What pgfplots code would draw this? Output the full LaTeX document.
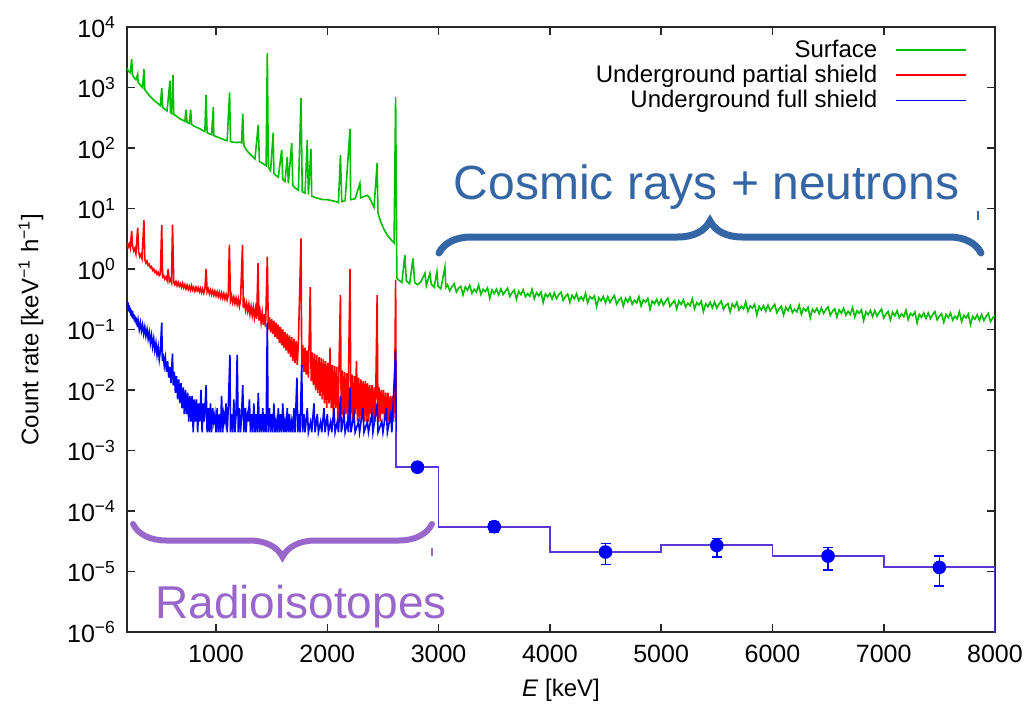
\documentclass[border=0pt]{standalone}
\usepackage{pgfplots}
\pgfplotsset{compat=1.18}
\usepackage{fontspec}
\setmainfont{Liberation Sans}
\usetikzlibrary{decorations.pathreplacing}
\definecolor{sgreen}{RGB}{0,190,0}
\definecolor{hcol}{RGB}{90,55,215}
\definecolor{cosmic}{RGB}{52,101,164}
\definecolor{radio}{RGB}{153,102,204}
\pgfplotstableread{
x y ep em
2810 5.3e-4 0 0
3500 5.5e-5 1.1e-5 1.1e-5
4500 2.1e-5 0.8e-5 0.8e-5
5500 2.7e-5 0.8e-5 0.95e-5
6500 1.8e-5 0.7e-5 0.75e-5
7500 1.17e-5 0.63e-5 0.59e-5
}\pointdata
\begin{document}
\begin{tikzpicture}
\begin{axis}[
  at={(0,0)}, anchor=south west,
  scale only axis, width=434pt, height=302.5pt,
  xmin=200, xmax=8000,
  ymode=log, log basis y=10, ymin=1e-6, ymax=1e4,
  xtick={1000,2000,3000,4000,5000,6000,7000,8000},
  xticklabels={1000,2000,3000,4000,5000,6000,7000,8000},
  ytick={1e-6,1e-5,1e-4,1e-3,1e-2,1e-1,1,10,100,1000,10000},
  yticklabels={10\textsuperscript{−6},10\textsuperscript{−5},10\textsuperscript{−4},10\textsuperscript{−3},10\textsuperscript{−2},10\textsuperscript{−1},10\textsuperscript{0},10\textsuperscript{1},10\textsuperscript{2},10\textsuperscript{3},10\textsuperscript{4}},
  yminorticks=false, xminorticks=false,
  tick pos=both, tick align=inside, major tick length=4pt,
  axis line style={line width=0.8pt, black!85},
  tick style={line width=0.8pt, black!85},
  tick label style={font=\fontsize{12.5}{14}\selectfont},
  xticklabel style={yshift=-3pt},
  yticklabel style={xshift=-2pt},
  every axis y label/.style={at={(axis description cs:0,0.5)}, xshift=-48pt, rotate=90, anchor=center},
  every axis x label/.style={at={(axis description cs:0.5,0)}, yshift=-29pt, anchor=center},
  ylabel={Count rate [keV\textsuperscript{−1} h\textsuperscript{−1}]},
  xlabel={\textit{E} [keV]},
  label style={font=\fontsize{12}{14}\selectfont},
  legend cell align=right,
  legend plot pos=right,
  legend style={draw=none, fill=none, at={(rel axis cs:0.975,0.993)}, anchor=north east,
    font=\fontsize{12}{13}\selectfont, row sep=-1.5pt},
  legend image code/.code={\path (0pt,0pt); \draw[#1] (7pt,0pt) -- (42pt,0pt);},
]
% Surface
\addplot[sgreen, line width=0.8pt] coordinates {
(200,2100)(210,1900)(220,1800)(230,1750)(242,2950)(250,1600)(260,1500)(270,1400)(280,1350)(296,1650)(300,1200)(310,1150)(320,1100)(330,1050)(340,1000)(353,2000)(360,920)(370,880)(380,820)(390,780)(400,740)(420,680)(440,620)(460,580)(480,540)(500,500)(512,980)(520,470)(540,440)(560,410)(586,1300)(590,390)(600,375)(613,1600)(620,360)(640,340)(660,320)(680,300)(700,290)(720,275)(730,430)(740,265)(760,255)(772,430)(780,245)(800,232)(820,222)(840,215)(860,205)(880,195)(900,188)(910,750)(920,180)(940,172)(960,166)(976,480)(980,160)(1000,155)(1020,150)(1040,145)(1060,140)(1080,135)(1100,132)(1122,830)(1130,128)(1150,125)(1170,124)(1190,123)(1210,125)(1230,122)(1240,370)(1250,110)(1270,95)(1290,85)(1310,78)(1330,72)(1350,66)(1379,240)(1390,60)(1410,57)(1430,54)(1450,51)(1461,3700)(1470,48)(1490,42)(1514,180)(1520,38)(1540,35)(1560,33)(1590,93)(1600,30)(1620,28)(1640,71)(1650,26)(1680,120)(1690,24)(1710,22)(1740,20)(1764,670)(1775,19)(1800,18)(1820,135)(1830,17)(1853,96)(1860,16)(1880,15.5)(1900,15)(1930,14.5)(1960,14)(2000,14)(2040,13.5)(2080,13)(2100,12.5)(2118,76)(2130,13)(2160,13.5)(2204,205)(2210,14)(2250,14.5)(2293,26)(2300,15)(2330,15.8)(2360,16.5)(2380,15)(2400,12.5)(2420,10.5)(2448,56)(2455,8.5)(2480,6)(2510,4.5)(2540,3.6)(2570,3.1)(2600,2.7)(2614,690)(2625,0.7)
(2640,0.66)(2670,0.6)(2697,1.7)(2710,0.64)(2740,0.57)(2770,1.5)(2785,0.6)(2810,0.55)(2840,0.61)(2877,0.85)(2890,0.53)(2922,0.85)(2935,0.56)(2960,0.5)(2985,0.9)(2995,0.52)(3020,0.47)(3057,1.07)(3065,0.5)
(3080,0.55)(3100,0.436)(3120,0.508)(3140,0.571)(3160,0.416)(3180,0.484)(3200,0.515)(3220,0.374)(3240,0.505)(3260,0.445)(3280,0.538)(3300,0.398)(3320,0.461)(3340,0.416)(3360,0.542)(3380,0.38)(3400,0.462)(3420,0.423)(3440,0.488)(3460,0.327)(3480,0.453)(3500,0.391)(3520,0.462)(3540,0.374)
(3560,0.47)(3580,0.378)(3600,0.428)(3620,0.481)(3640,0.351)(3660,0.408)(3680,0.449)(3700,0.317)(3720,0.428)(3740,0.376)(3760,0.455)(3780,0.348)(3800,0.392)(3820,0.353)(3840,0.461)(3860,0.323)(3880,0.407)(3900,0.361)(3920,0.417)(3940,0.279)(3960,0.387)(3980,0.346)(4000,0.396)(4020,0.32)
(4040,0.403)(4060,0.324)(4080,0.378)(4100,0.413)(4120,0.301)(4140,0.35)(4160,0.385)(4180,0.28)(4200,0.367)(4220,0.323)(4240,0.391)(4260,0.299)(4280,0.347)(4300,0.304)(4320,0.396)(4340,0.277)(4360,0.35)(4380,0.32)(4400,0.358)(4420,0.24)(4440,0.333)(4460,0.298)(4480,0.352)(4500,0.276)
(4520,0.347)(4540,0.279)(4560,0.326)(4580,0.366)(4600,0.261)(4620,0.304)(4640,0.334)(4660,0.243)(4680,0.328)(4700,0.283)(4720,0.343)(4740,0.262)(4760,0.304)(4780,0.274)(4800,0.35)(4820,0.245)(4840,0.31)(4860,0.283)(4880,0.327)(4900,0.215)(4920,0.297)(4940,0.266)(4960,0.315)(4980,0.255)
(5000,0.314)(5020,0.252)(5040,0.294)(5060,0.33)(5080,0.241)(5100,0.274)(5120,0.301)(5140,0.219)(5160,0.296)(5180,0.26)(5200,0.308)(5220,0.236)(5240,0.273)(5260,0.247)(5280,0.322)(5300,0.22)(5320,0.278)(5340,0.254)(5360,0.293)(5380,0.197)(5400,0.266)(5420,0.238)(5440,0.282)(5460,0.228)
(5480,0.287)(5500,0.225)(5520,0.263)(5540,0.295)(5560,0.215)(5580,0.25)(5600,0.268)(5620,0.195)(5640,0.264)(5660,0.232)(5680,0.281)(5700,0.209)(5720,0.243)(5740,0.219)(5760,0.286)(5780,0.2)(5800,0.246)(5820,0.225)(5840,0.26)(5860,0.174)(5880,0.241)(5900,0.21)(5920,0.249)(5940,0.201)
(5960,0.253)(5980,0.203)(6000,0.231)(6020,0.26)(6040,0.189)(6060,0.22)(6080,0.242)(6100,0.173)(6120,0.233)(6140,0.205)(6160,0.248)(6180,0.19)(6200,0.216)(6220,0.195)(6240,0.254)(6260,0.178)(6280,0.225)(6300,0.202)(6320,0.233)(6340,0.156)(6360,0.216)(6380,0.193)(6400,0.224)(6420,0.182)
(6440,0.228)(6460,0.184)(6480,0.214)(6500,0.236)(6520,0.172)(6540,0.2)(6560,0.22)(6580,0.16)(6600,0.212)(6620,0.186)(6640,0.225)(6660,0.172)(6680,0.2)(6700,0.177)(6720,0.23)(6740,0.161)(6760,0.204)(6780,0.186)(6800,0.211)(6820,0.141)(6840,0.196)(6860,0.175)(6880,0.207)(6900,0.164)
(6920,0.206)(6940,0.166)(6960,0.193)(6980,0.217)(7000,0.155)(7020,0.18)(7040,0.198)(7060,0.144)(7080,0.194)(7100,0.168)(7120,0.204)(7140,0.156)(7160,0.181)(7180,0.163)(7200,0.209)(7220,0.146)(7240,0.184)(7260,0.169)(7280,0.195)(7300,0.128)(7320,0.178)(7340,0.159)(7360,0.188)(7380,0.152)
(7400,0.188)(7420,0.151)(7440,0.176)(7460,0.198)(7480,0.144)(7500,0.165)(7520,0.182)(7540,0.132)(7560,0.178)(7580,0.157)(7600,0.187)(7620,0.143)(7640,0.166)(7660,0.15)(7680,0.196)(7700,0.135)(7720,0.171)(7740,0.156)(7760,0.18)(7780,0.121)(7800,0.165)(7820,0.148)(7840,0.175)(7860,0.142)
(7880,0.177)(7900,0.141)(7920,0.165)(7940,0.185)(7960,0.135)(7980,0.156)(8000,0.17)
};
\addlegendentry{Surface}
% Underground partial shield
\addplot[red, line width=0.8pt] coordinates {
(200,2.8)(210,2.3)(220,2.6)(230,2.2)(242,4.2)(250,2.4)(260,2.0)(270,2.2)(280,1.8)(296,4.8)(305,1.9)(315,1.6)(325,1.75)(335,1.5)(352,6.4)(360,1.45)(370,1.25)(380,1.35)(390,1.15)(400,1.2)(410,1.05)(420,1.1)(430,0.95)(440,1.0)(450,0.88)(460,0.93)(470,0.82)(480,0.88)(490,0.78)(500,0.82)(512,5.3)(520,0.74)(530,0.78)(540,0.68)(550,0.74)(560,0.65)(570,1.0)(580,0.62)(590,0.68)(600,0.6)(609,5.4)(620,0.6)(630,0.55)(640,0.62)(650,0.53)(660,0.6)(670,0.52)(680,0.57)(690,0.5)(700,0.58)(710,0.49)(720,0.55)(730,0.47)(740,0.54)(750,0.46)(760,0.52)(770,0.45)(780,0.53)(790,0.45)(800,0.5)(810,0.43)(820,0.5)(830,0.44)(840,0.49)(850,0.42)(860,0.48)(870,0.41)(880,0.47)(890,0.4)(900,0.46)(911,1.0)(920,0.42)(930,0.47)(940,0.39)(950,0.45)(960,0.38)(970,0.44)(980,0.37)(990,0.43)(1000,0.36)(1010,0.42)(1020,0.35)(1030,0.41)(1040,0.34)(1050,0.4)(1060,0.33)(1070,0.39)(1080,0.32)(1090,0.38)(1100,0.31)(1110,0.37)(1120,2.5)(1130,0.3)(1140,0.36)(1150,0.28)(1160,0.34)(1170,0.27)(1180,0.33)(1190,0.26)(1200,0.32)(1210,0.24)(1220,0.3)(1238,2.5)(1245,0.23)(1255,0.29)(1265,0.21)(1275,0.27)(1285,0.2)(1295,0.26)(1305,0.18)(1315,0.24)(1325,0.17)(1335,0.23)(1345,0.16)(1355,0.22)(1365,0.15)(1378,1.25)(1385,0.14)(1395,0.2)(1405,0.13)(1415,0.19)(1425,0.12)(1435,0.18)(1445,0.11)(1461,1.6)(1470,0.1)(1480,0.16)(1490,0.09)(1500,0.15)(1510,0.085)(1520,0.14)(1530,0.075)(1540,0.13)(1550,0.07)(1560,0.12)(1570,0.06)(1580,0.11)(1590,0.055)(1600,0.1)(1610,0.05)(1620,0.09)(1630,0.045)(1640,0.085)(1650,0.04)(1660,0.08)(1670,0.035)(1680,0.075)(1690,0.03)(1700,0.07)(1710,0.028)(1720,0.065)(1730,0.026)(1740,0.06)(1764,3.2)(1770,0.024)(1780,0.055)(1790,0.02)(1800,0.05)(1810,0.018)(1820,0.045)(1830,0.016)(1847,0.5)(1855,0.014)(1865,0.042)(1875,0.012)(1885,0.04)(1895,0.01)(1905,0.038)(1915,0.009)(1925,0.035)(1935,0.008)(1945,0.034)(1955,0.007)(1965,0.032)(1975,0.006)(1985,0.03)(1995,0.005)(2005,0.028)(2015,0.006)(2025,0.05)(2035,0.005)(2045,0.026)(2055,0.004)(2065,0.025)(2075,0.005)(2085,0.024)(2095,0.003)(2105,0.022)(2118,0.37)(2125,0.004)(2135,0.021)(2145,0.003)(2155,0.02)(2165,0.004)(2175,0.019)(2185,0.003)(2204,1.0)(2212,0.004)(2222,0.018)(2232,0.003)(2242,0.017)(2252,0.004)(2262,0.03)(2272,0.003)(2282,0.016)(2292,0.003)(2302,0.015)(2312,0.004)(2322,0.014)(2332,0.003)(2342,0.014)(2352,0.003)(2362,0.013)(2372,0.003)(2382,0.012)(2392,0.004)(2402,0.012)(2412,0.003)(2422,0.011)(2432,0.003)(2448,0.37)(2455,0.003)(2465,0.011)(2475,0.003)(2485,0.01)(2495,0.004)(2505,0.01)(2515,0.003)(2525,0.009)(2535,0.003)(2545,0.009)(2555,0.003)(2565,0.008)(2575,0.003)(2585,0.008)(2595,0.003)(2605,0.007)(2614,0.66)(2619,0.003)
};
\addlegendentry{Underground partial shield}
% Underground full shield
\addplot[blue, line width=0.8pt] coordinates {
(200,0.3)(205,0.22)(210,0.28)(215,0.2)(220,0.25)(225,0.19)(230,0.23)(235,0.17)(240,0.21)(245,0.16)(250,0.2)(255,0.15)(260,0.18)(265,0.14)(270,0.17)(275,0.13)(280,0.16)(285,0.12)(290,0.15)(295,0.11)(300,0.14)(310,0.1)(320,0.13)(330,0.095)(340,0.12)(350,0.085)(360,0.11)(370,0.078)(380,0.1)(390,0.07)(400,0.09)(410,0.06)(420,0.08)(430,0.052)(440,0.07)(450,0.045)(460,0.06)(470,0.038)(480,0.052)(490,0.032)(500,0.045)(512,0.13)(518,0.03)(525,0.04)(535,0.025)(545,0.034)(555,0.02)(565,0.03)(575,0.016)(585,0.024)(595,0.013)(609,0.04)(615,0.012)(625,0.02)(635,0.009)(645,0.017)(655,0.007)(665,0.015)(675,0.006)(685,0.013)(695,0.005)(705,0.011)(715,0.004)(725,0.01)(735,0.004)(745,0.009)(755,0.003)(765,0.008)(775,0.003)(785,0.008)(795,0.002)(805,0.007)(815,0.003)(825,0.007)(835,0.002)(845,0.006)(855,0.003)(865,0.01)(875,0.002)(885,0.006)(895,0.003)(911,0.012)(920,0.002)(930,0.005)(940,0.002)(950,0.006)(960,0.002)(970,0.005)(980,0.003)(990,0.004)(1000,0.002)
(1010,0.005)(1020,0.002)(1030,0.004)(1040,0.002)(1050,0.008)(1060,0.002)(1070,0.004)(1080,0.003)(1090,0.006)(1100,0.002)(1110,0.005)(1125,0.038)(1130,0.002)(1140,0.004)(1150,0.002)(1160,0.007)(1170,0.002)(1180,0.004)(1190,0.038)(1200,0.002)(1210,0.005)(1220,0.002)(1230,0.004)(1240,0.012)(1250,0.002)(1260,0.005)(1270,0.002)(1280,0.004)(1290,0.003)(1300,0.007)(1310,0.002)(1320,0.004)(1330,0.002)(1340,0.006)(1350,0.002)(1360,0.004)(1370,0.002)(1380,0.009)(1390,0.002)(1400,0.004)(1410,0.002)(1420,0.005)(1430,0.002)(1440,0.004)(1450,0.002)(1461,0.13)(1468,0.002)(1480,0.005)(1490,0.002)(1500,0.004)(1510,0.002)(1520,0.006)(1530,0.002)(1540,0.003)(1550,0.002)(1560,0.005)(1570,0.002)(1580,0.004)(1590,0.002)(1600,0.006)(1610,0.002)(1620,0.003)(1630,0.002)(1640,0.005)(1650,0.002)(1660,0.004)(1670,0.002)(1680,0.003)(1690,0.002)(1700,0.005)(1710,0.002)(1727,0.016)(1735,0.002)(1745,0.004)(1755,0.002)(1770,0.026)(1778,0.002)(1790,0.004)(1800,0.002)
(1820,0.005)(1830,0.002)(1850,0.003)(1860,0.002)(1880,0.006)(1890,0.002)(1910,0.004)(1920,0.002)(1940,0.003)(1950,0.002)(1970,0.005)(1980,0.002)(2000,0.004)(2010,0.002)(2030,0.003)(2040,0.002)(2060,0.005)(2070,0.002)(2090,0.003)(2100,0.002)(2118,0.008)(2126,0.002)(2150,0.004)(2160,0.002)(2180,0.003)(2190,0.002)(2204,0.011)(2212,0.002)(2240,0.004)(2250,0.002)(2280,0.003)(2290,0.002)(2320,0.005)(2330,0.002)(2360,0.003)(2370,0.002)(2400,0.004)(2410,0.002)(2448,0.006)(2456,0.002)(2490,0.003)(2500,0.002)(2530,0.005)(2540,0.002)(2570,0.004)(2580,0.002)(2614,0.045)(2619,0.002)
};
\addlegendentry{Underground full shield}
% high-energy histogram
\addplot[const plot, hcol, line width=0.9pt, forget plot] coordinates {
(2619,0.002)(2619,5.3e-4)(3000,5.5e-5)(4000,2.1e-5)(5000,2.75e-5)(6000,1.8e-5)(7000,1.17e-5)(8000,1e-8)
};
\addplot[only marks, mark=*, blue, mark size=3.2pt, forget plot,
  error bars/.cd, y dir=both, y explicit,
  error bar style={line width=0.8pt, blue},
  error mark options={rotate=90, mark size=2.5pt, line width=0.8pt, blue}]
  table[x=x, y=y, y error plus=ep, y error minus=em] {\pointdata};
\end{axis}
% annotations (1 px = 0.5 pt, axis origin at pixel (127,632))
\draw[cosmic, line width=3.5pt, line cap=round, decorate, decoration={brace, amplitude=16pt}]
  (156pt,189.5pt) -- (427pt,189.5pt);
\node[cosmic, anchor=base, font=\fontsize{24}{28}\selectfont] at (289.75pt,216pt) {Cosmic rays + neutrons};
\draw[radio, line width=3pt, line cap=round, decorate, decoration={brace, amplitude=16.5pt}]
  (152.5pt,54pt) -- (3pt,54pt);
\node[radio, anchor=base, font=\fontsize{23}{27}\selectfont] at (87pt,7pt) {Radioisotopes};
\draw[cosmic, line width=0.6pt] (425.5pt,206pt) -- (425.5pt,210.5pt);
\draw[radio, line width=0.6pt] (152.5pt,38pt) -- (152.5pt,42pt);
\pgfresetboundingbox
\path[use as bounding box] (-63.5pt,-38.5pt) rectangle (451.5pt,316pt);
\end{tikzpicture}
\end{document}
